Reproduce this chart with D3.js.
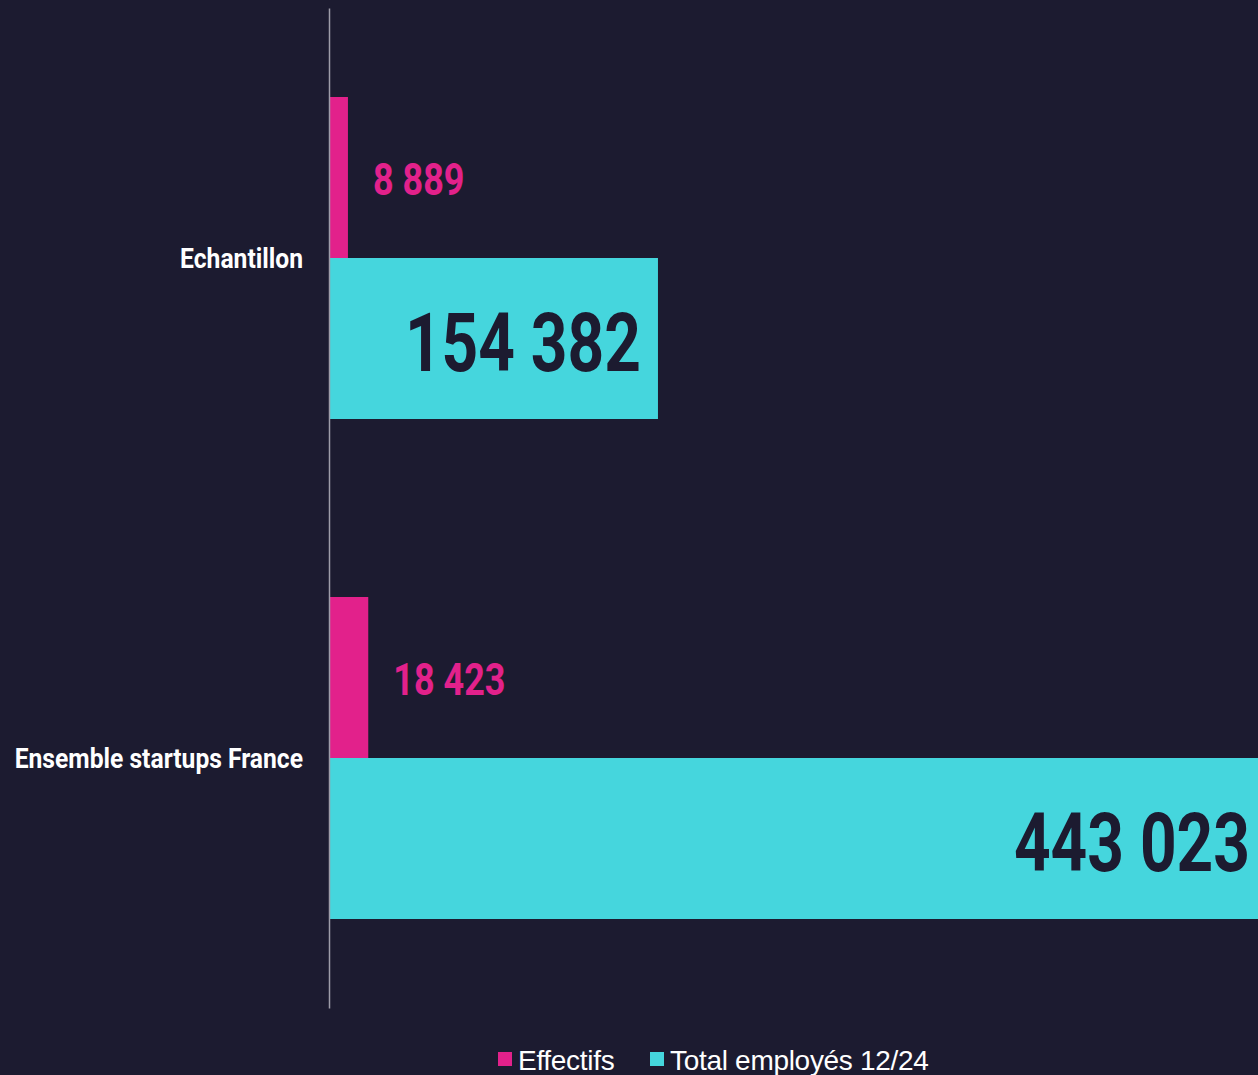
<!DOCTYPE html>
<html>
<head>
<meta charset="utf-8">
<script src="https://cdn.jsdelivr.net/npm/d3@7"></script>
<style>
  html, body { margin: 0; padding: 0; background: #1c1b30; }
  svg { display: block; }
  .cond { font-family: Roboto, "Liberation Sans", sans-serif; font-weight: bold; }
</style>
</head>
<body>
<svg width="1258" height="1075"></svg>
<script>
const categories = ["Echantillon", "Ensemble startups France"];
const series = ["Effectifs", "Total employés 12/24"];
const effectifs = [8889, 18423];
const totalEmployes = [154382, 443023];
const labels = ["8 889", "18 423", "154 382", "443 023"];
const colors = ["#e2218b", "#45d6dd"];

const bg = "#1c1b30";
const svg = d3.select("svg");

// texte condensé : on resserre la largeur naturelle
function condense(sel, k) {
    sel.each(function() {
        const w = this.getComputedTextLength();
        d3.select(this)
            .attr("textLength", w * k)
            .attr("lengthAdjust", "spacingAndGlyphs");
    });
}

const rows = categories.map((c, i) => ({
    cat: c,
    vals: [
        {key: series[0], v: effectifs[i], label: labels[i]},
        {key: series[1], v: totalEmployes[i], label: labels[i + 2]}
    ]
}));

const x = d3.scaleLinear()
    .domain([0, 443023])
    .range([329, 1273]);

const y = d3.scaleBand()
    .domain(categories)
    .range([8, 1008])
    .paddingInner(0.356)
    .paddingOuter(0.178);

const ySub = d3.scaleBand()
    .domain(series)
    .range([0, y.bandwidth()]);

const groups = svg.selectAll("g.grp")
    .data(rows)
    .enter()
    .append("g")
    .attr("class", "grp")
    .attr("transform", d => `translate(0, ${y(d.cat)})`);

groups.selectAll("rect")
    .data(d => d.vals)
    .enter()
    .append("rect")
    .attr("x", x(0))
    .attr("y", d => ySub(d.key))
    .attr("width", d => x(d.v) - x(0))
    .attr("height", ySub.bandwidth())
    .attr("fill", (d, i) => colors[i]);

// valeurs roses, à droite de la barre
groups.append("text")
    .attr("class", "cond")
    .attr("x", d => x(d.vals[0].v) + 25)
    .attr("y", ySub(series[0]) + ySub.bandwidth() / 2 + 6)
    .attr("dominant-baseline", "middle")
    .attr("font-size", 45)
    .attr("fill", colors[0])
    .text(d => d.vals[0].label)
    .call(condense, 0.8);

// valeurs cyan, dans le bout de la barre (gardées dans le cadre)
groups.append("text")
    .attr("class", "cond")
    .attr("x", d => Math.min(x(d.vals[1].v) - 17, 1250))
    .attr("y", ySub(series[1]) + ySub.bandwidth() / 2 + 11)
    .attr("dominant-baseline", "middle")
    .attr("text-anchor", "end")
    .attr("font-size", 82)
    .attr("fill", bg)
    .text(d => d.vals[1].label)
    .call(condense, 0.78);

// axe vertical
const yAxis = d3.axisLeft(y).tickSize(0).tickPadding(26);
const axisG = svg.append("g")
    .attr("transform", `translate(${x(0)}, 0)`)
    .call(yAxis);
axisG.select(".domain").attr("stroke", "#9d9ca8").attr("stroke-width", 1.5);
axisG.selectAll("text")
    .attr("class", "cond")
    .attr("font-size", 28)
    .attr("fill", "#ffffff")
    .attr("dy", "0.35em")
    .call(condense, 0.88);

// légende
const legend = svg.append("g").attr("transform", "translate(498, 1060)");
const items = legend.selectAll("g")
    .data(series)
    .enter()
    .append("g")
    .attr("transform", (d, i) => `translate(${i === 0 ? 0 : 152}, 0)`);
items.append("rect")
    .attr("y", -8)
    .attr("width", 14)
    .attr("height", 14)
    .attr("fill", (d, i) => colors[i]);
items.append("text")
    .attr("x", 20)
    .attr("y", 0)
    .attr("dy", "0.35em")
    .attr("font-family", "Liberation Sans, Arial, sans-serif")
    .attr("font-size", 28)
    .attr("letter-spacing", -0.3)
    .attr("fill", "#ffffff")
    .text(d => d);
</script>
</body>
</html>
